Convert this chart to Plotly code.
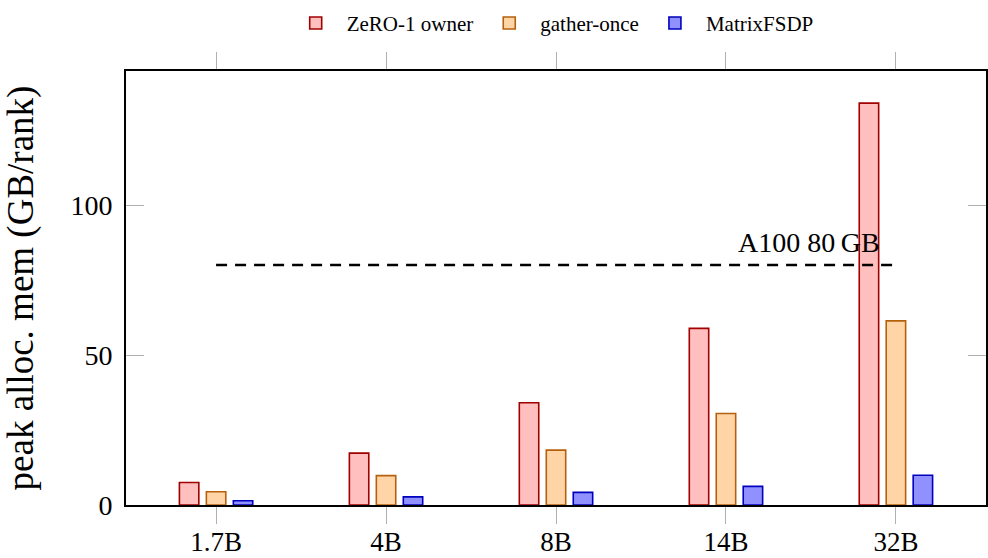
import plotly.graph_objects as go

categories = ["1.7B", "4B", "8B", "14B", "32B"]
zero1_owner = [7.5, 17.3, 34.1, 58.9, 134.0]
gather_once = [4.4, 9.8, 18.3, 30.5, 61.4]
matrix_fsdp = [1.4, 2.7, 4.2, 6.2, 9.9]
a100_limit = 80
a100_label = "A100 80\u2009GB"

series = [
    ("ZeRO-1 owner", zero1_owner, "#ffbfbf", "#a00000"),
    ("gather-once", gather_once, "#ffd5a8", "#b5600c"),
    ("MatrixFSDP", matrix_fsdp, "#9090ff", "#0000c0"),
]

FONT = "Liberation Serif"

fig = go.Figure()
for name, vals, fill, edge in series:
    fig.add_trace(go.Bar(
        x=categories, y=vals, name=name,
        marker=dict(color=fill, line=dict(color=edge, width=1.6)),
    ))

fig.add_trace(go.Scatter(
    x=[categories[0], categories[-1]], y=[a100_limit, a100_limit],
    mode="lines", line=dict(color="black", width=2.6, dash="11px,8px"),
    showlegend=False, hoverinfo="skip",
))

fig.add_annotation(
    x=3.49, y=a100_limit + 7.5, xref="x", yref="y", text=a100_label,
    showarrow=False, font=dict(family=FONT, size=28, color="black"),
    xanchor="center", yanchor="middle",
)

fig.update_layout(
    width=988, height=558,
    margin=dict(l=126, r=2, t=71, b=53, autoexpand=False),
    paper_bgcolor="white", plot_bgcolor="white",
    barmode="group", bargap=0.524, bargroupgap=0.28,
    font=dict(family=FONT, color="black"),
    legend=dict(
        orientation="h", x=0.495, xanchor="center", y=0.995, yanchor="top",
        yref="container", font=dict(family=FONT, size=21),
        itemwidth=52, bgcolor="rgba(0,0,0,0)",
    ),
    showlegend=True,
)

fig.update_xaxes(
    type="category", range=[-0.53, 4.53], automargin=False,
    showline=True, linecolor="black", linewidth=1.6, mirror="ticks",
    ticks="outside", ticklen=17, tickwidth=1, tickcolor="#b0b0b0",
    ticklabelstandoff=-5,
    tickfont=dict(family=FONT, size=27), showgrid=False, zeroline=False,
)
fig.update_yaxes(
    range=[0, 144.7], tickvals=[0, 50, 100], automargin=False,
    showline=True, linecolor="black", linewidth=1.6, mirror="ticks",
    ticks="inside", ticklen=18, tickwidth=1, tickcolor="#b0b0b0",
    ticklabelstandoff=6,
    tickfont=dict(family=FONT, size=28), showgrid=False, zeroline=False,
    title=dict(text="peak alloc. mem (GB/rank)", font=dict(family=FONT, size=37), standoff=58),
)

fig.write_html("out.html")
